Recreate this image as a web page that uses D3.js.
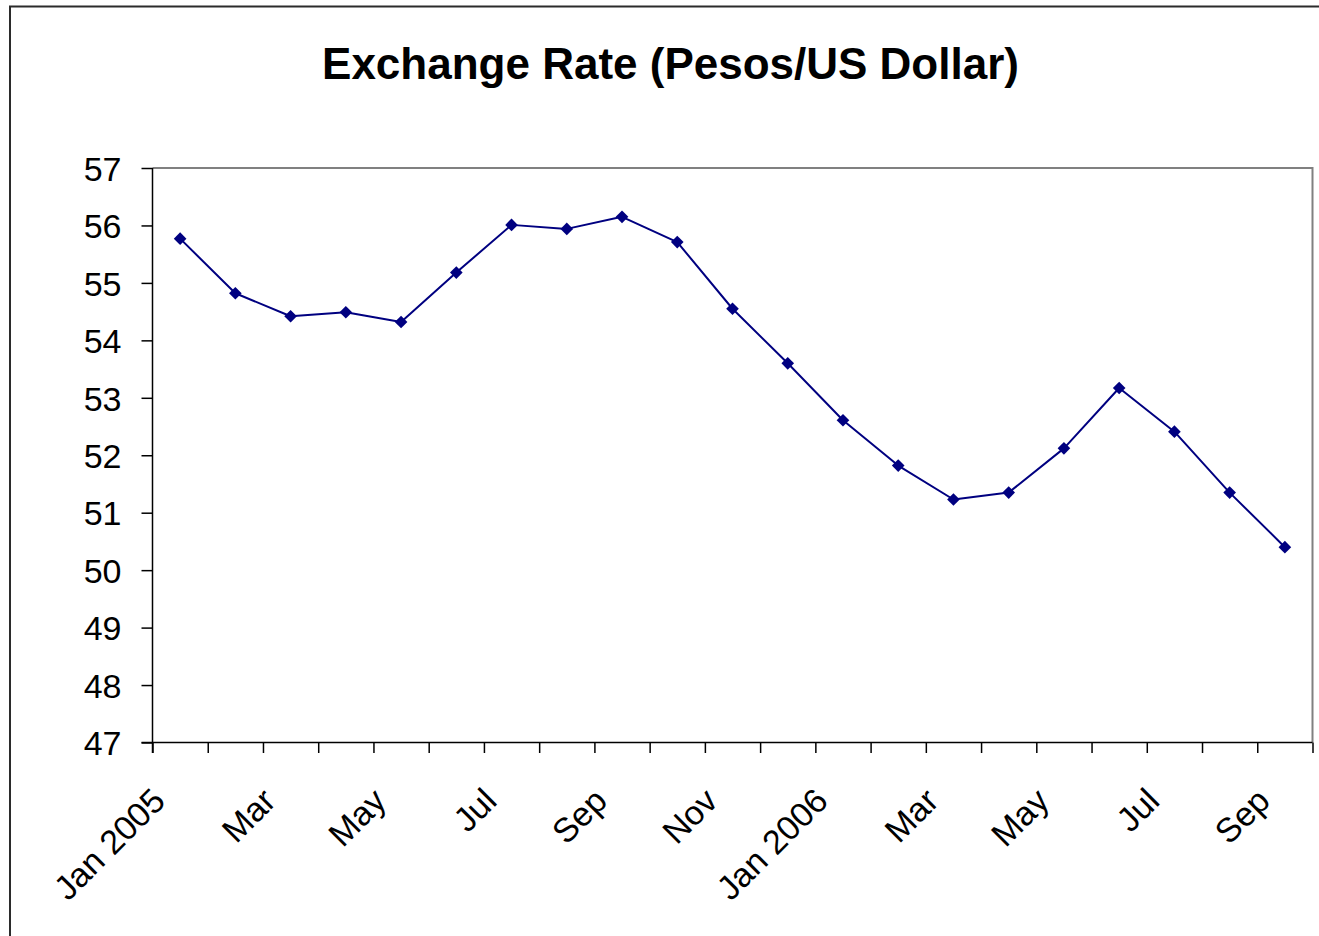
<!DOCTYPE html>
<html>
<head>
<meta charset="utf-8">
<script src="https://cdn.jsdelivr.net/npm/d3@7/dist/d3.min.js"></script>
<style>
  html, body { margin: 0; padding: 0; background: #fff; }
  svg { display: block; }
  text { font-family: "Liberation Sans", Arial, sans-serif; fill: #000; }
</style>
</head>
<body>
<svg id="chart" width="1319" height="936"></svg>
<script>
// Monthly exchange rate, Jan 2005 – Sep 2006
const months = ["Jan 2005", "Feb", "Mar", "Apr", "May", "Jun", "Jul", "Aug", "Sep", "Oct", "Nov", "Dec",
                "Jan 2006", "Feb", "Mar", "Apr", "May", "Jun", "Jul", "Aug", "Sep"];
const rates = [55.77, 54.82, 54.42, 54.49, 54.32, 55.18, 56.01, 55.94, 56.15, 55.71, 54.55, 53.60,
               52.61, 51.82, 51.23, 51.35, 52.12, 53.17, 52.41, 51.35, 50.40];
const yTicks = [47, 48, 49, 50, 51, 52, 53, 54, 55, 56, 57];
const title = "Exchange Rate (Pesos/US Dollar)";

const svg = d3.select("#chart");
const plot = { left: 152.5, right: 1312.5, top: 168, bottom: 742.5 };

// outer chart frame (continues past the right and bottom edges)
svg.append("rect")
  .attr("x", 10).attr("y", 6.5)
  .attr("width", 1340).attr("height", 960)
  .attr("fill", "#fff").attr("stroke", "#2b2b2b").attr("stroke-width", 2);

// title
svg.append("text")
  .attr("x", 670.5).attr("y", 79)
  .attr("text-anchor", "middle")
  .attr("font-size", 44).attr("font-weight", "bold")
  .text(title);

const idx = months.map((_, i) => i);
const x = d3.scaleBand().domain(idx).range([plot.left, plot.right]).paddingInner(0).paddingOuter(0);
const xEdge = d3.scaleLinear().domain([0, months.length]).range([plot.left, plot.right]);
const y = d3.scaleLinear().domain([47, 57]).range([plot.bottom, plot.top]);

// plot area border: top and right in grey
svg.append("path")
  .attr("d", `M${plot.left},${plot.top}H${plot.right}V${plot.bottom}`)
  .attr("fill", "none").attr("stroke", "#808080").attr("stroke-width", 2);

// y axis
const yAxis = svg.append("g")
  .attr("transform", `translate(${plot.left},0)`)
  .call(d3.axisLeft(y).tickValues(yTicks).tickSize(11).tickPadding(20).tickFormat(d3.format("d")));
yAxis.select(".domain").attr("stroke", "#000").attr("stroke-width", 1.5)
  .attr("d", `M0,${plot.top}V${plot.bottom + 10.5}`);
yAxis.selectAll(".tick line").attr("stroke", "#000").attr("stroke-width", 1.5);
yAxis.selectAll(".tick text")
  .attr("font-size", 34).attr("font-family", "Liberation Sans, Arial, sans-serif")
  .attr("dy", "0.36em").attr("fill", "#000");

// x axis: tick marks on category boundaries
const xAxis = svg.append("g")
  .attr("transform", `translate(0,${plot.bottom})`)
  .call(d3.axisBottom(xEdge).tickValues(d3.range(months.length + 1)).tickSize(10.5).tickFormat(""));
xAxis.select(".domain").attr("stroke", "#000").attr("stroke-width", 1.5)
  .attr("d", `M${plot.left - 11},0H${plot.right}`);
xAxis.selectAll(".tick line").attr("stroke", "#000").attr("stroke-width", 1.5);

// rotated category labels, every second month
svg.append("g").selectAll("text")
  .data(idx.filter(i => i % 2 === 0))
  .join("text")
  .attr("transform", i => `translate(${x(i) + x.bandwidth() / 2 - 13},803) rotate(-45)`)
  .attr("text-anchor", "end")
  .attr("font-size", 34)
  .text(i => months[i]);

// series line
const line = d3.line()
  .x((d, i) => x(i) + x.bandwidth() / 2)
  .y(d => y(d));
svg.append("path")
  .datum(rates)
  .attr("d", line)
  .attr("fill", "none").attr("stroke", "#000080").attr("stroke-width", 2)
  .attr("stroke-linejoin", "round");

// diamond markers
const diamond = d3.symbol().type(d3.symbolSquare).size(80);
svg.append("g").selectAll("path")
  .data(rates)
  .join("path")
  .attr("d", diamond)
  .attr("transform", (d, i) => `translate(${x(i) + x.bandwidth() / 2},${y(d)}) rotate(45)`)
  .attr("fill", "#000080");
</script>
</body>
</html>
